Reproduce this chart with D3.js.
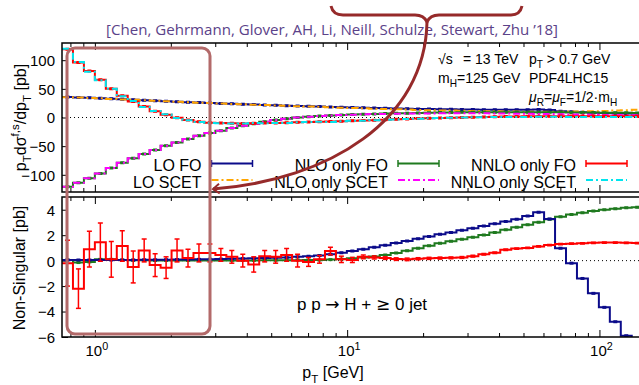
<!DOCTYPE html>
<html>
<head>
<meta charset="utf-8">
<script src="https://cdnjs.cloudflare.com/ajax/libs/d3/7.8.5/d3.min.js"></script>
<style>
body { margin: 0; background: #fff; }
svg { display: block; font-family: "Liberation Sans", Arial, sans-serif; }
</style>
</head>
<body>
<div id="chart-area"></div>
<script>
// bins are equally spaced in ln(pT), width 0.1, first edge at ln(pT) = -0.3
var binWidthLn = 0.1;
var firstEdgeLn = -0.3;
var nBins = 53;
var edges = d3.range(nBins + 1).map(function(k){ return Math.exp(firstEdgeLn + binWidthLn * k); });

// top panel: pT dsigma/dpT [pb]
var loFo = [35.6, 35.1, 34.3, 33.5, 32.6, 31.7, 30.9, 30.1, 29.2, 28.4,
    27.6, 26.8, 26.0, 25.2, 24.5, 23.8, 23.2, 22.5, 21.8, 21.2,
    20.6, 20.1, 19.5, 19.0, 18.4, 17.8, 17.3, 16.9, 16.4, 16.0,
    15.6, 15.3, 15.0, 14.7, 14.4, 14.2, 14.0, 13.8, 13.7, 13.6,
    13.5, 13.5, 13.6, 13.8, 13.3, 11.1, 10.1, 9.2, 8.4, 7.8,
    7.2, 6.8, 6.5];
var loScet = [35.5, 35.0, 34.2, 33.4, 32.5, 31.6, 30.8, 30.0, 29.1, 28.3,
    27.5, 26.7, 25.9, 25.1, 24.4, 23.7, 23.0, 22.3, 21.6, 21.0,
    20.4, 19.8, 19.2, 18.6, 17.9, 17.2, 16.6, 16.0, 15.4, 14.8,
    14.3, 13.8, 13.3, 12.8, 12.4, 12.0, 11.6, 11.3, 11.0, 10.7,
    10.5, 10.3, 10.1, 10.0, 10.0, 10.1, 10.3, 10.6, 11.0, 11.5,
    12.0, 12.7, 13.5];
var nloFo = [-121, -114, -106, -97.5, -88, -79, -71, -63.5, -56.5, -49.5,
    -43.5, -37.5, -32, -27, -23, -18.5, -14.5, -11, -7.5, -4.5,
    -2, 0, 1.5, 2.7, 3.7, 4.5, 5.2, 5.8, 6.3, 6.8,
    7.2, 7.6, 8.0, 8.3, 8.6, 8.8, 9.0, 9.1, 9.2, 9.3,
    9.3, 9.3, 9.3, 9.2, 9.1, 9.0, 8.9, 8.8, 8.6, 8.5,
    8.3, 8.2, 8.0];
var nloScet = [-121, -114, -106, -97.5, -88, -79, -71, -63.5, -56.5, -49.5,
    -43.5, -37.5, -32, -27, -23, -18.5, -14.5, -11, -7.5, -4.5,
    -2, 0, 1.5, 2.6, 3.6, 4.4, 5.0, 5.5, 5.9, 6.3,
    6.6, 6.8, 7.0, 7.1, 7.2, 7.3, 7.3, 7.3, 7.2, 7.1,
    6.9, 6.7, 6.5, 6.2, 5.9, 5.6, 5.3, 5.0, 4.7, 4.5,
    4.2, 4.0, 3.8];
var nnloFo = [119, 96, 81, 66, 50, 38, 28, 19, 11, 5,
    -0.5, -4.5, -7.5, -9, -9.8, -10.2, -10.3, -10.1, -9.8, -9.4,
    -9, -8.5, -8, -7.5, -7, -6.4, -5.8, -5.2, -4.6, -3.9,
    -3.2, -2.5, -1.9, -1.3, -0.8, -0.3, 0.2, 0.6, 1.0, 1.3,
    1.6, 1.8, 2.0, 2.2, 2.3, 2.4, 2.4, 2.4, 2.4, 2.3,
    2.3, 2.2, 2.1];
var nnloScet = [120, 97, 80, 65, 50, 37, 29, 18.5, 11.5, 5.5,
    -0.8, -4.7, -8, -9.5, -10.2, -10.5, -10.3, -9.8, -10.1, -9.7,
    -9.4, -8.5, -7.9, -7.6, -7.7, -6.5, -5.8, -5.5, -4.8, -4.1,
    -3.3, -2.6, -2.05, -1.5, -1.0, -0.5, -0.05, 0.25, 0.5, 0.7,
    0.75, 0.85, 1.0, 1.1, 1.1, 1.1, 1.07, 1.04, 1.0, 0.9,
    0.9, 0.8, 0.7];

// bottom panel: non-singular [pb]
var nsLo = [0.05, 0.05, 0.05, 0.05, 0.05, 0.05, 0.05, 0.06, 0.06, 0.07,
    0.08, 0.09, 0.1, 0.11, 0.12, 0.14, 0.16, 0.18, 0.2, 0.22,
    0.25, 0.3, 0.35, 0.4, 0.5, 0.62, 0.75, 0.9, 1.05, 1.2,
    1.38, 1.55, 1.72, 1.9, 2.07, 2.22, 2.38, 2.55, 2.72, 2.9,
    3.07, 3.25, 3.5, 3.8, 3.27, 0.97, -0.2, -1.4, -2.57, -3.67,
    -4.8, -5.9, -6.5];
var nsNlo = [0.05, -0.15, -0.1, 0.1, 0.1, 0.05, 0.03, 0.03, 0.02, 0.02,
    0.02, 0.02, 0.02, 0.02, 0.02, 0.02, 0.02, 0.02, 0.03, 0.03,
    0.03, 0.04, 0.05, 0.05, 0.08, 0.12, 0.18, 0.25, 0.33, 0.45,
    0.6, 0.78, 0.97, 1.17, 1.36, 1.52, 1.68, 1.84, 2.02, 2.22,
    2.42, 2.62, 2.82, 3.02, 3.25, 3.45, 3.62, 3.77, 3.9, 4.0,
    4.08, 4.15, 4.2];
var nsNnlo = [-0.2, -2.2, 0.9, 1.45, 0.1, 1.15, -0.5, 0.8, -0.35, -0.55,
    0.8, 0.2, 0.6, 0.6, 0.45, 0.3, 0.0, -0.3, 0.35, 0.3,
    0.45, 0.0, -0.1, 0.1, 0.75, 0.1, 0.05, 0.3, 0.25, 0.2,
    0.12, 0.1, 0.15, 0.18, 0.2, 0.22, 0.25, 0.35, 0.5, 0.62,
    0.85, 0.95, 1.0, 1.12, 1.22, 1.3, 1.33, 1.36, 1.4, 1.42,
    1.42, 1.4, 1.38];
var nsNnloErr = [1.8, 1.55, 1.4, 1.5, 1.4, 1.2, 1.25, 0.9, 0.9, 0.85,
    0.9, 0.7, 0.7, 0.7, 0.5, 0.5, 0.5, 0.6, 0.45, 0.5,
    0.5, 0.5, 0.35, 0.3, 0.3, 0.25, 0.2, 0.15, 0.12, 0.1,
    0.1, 0.1, 0.08, 0.08, 0.08, 0.07, 0.07, 0.07, 0.06, 0.06,
    0.06, 0.05, 0.05, 0.05, 0.05, 0.05, 0.05, 0.05, 0.05, 0.05,
    0.05, 0.05, 0.05];

var topTicks = [100, 50, 0, -50, -100];
var bottomTicks = [4, 2, 0, -2, -4, -6];
var majorX = [1, 10, 100];

var legendRows = [
    [{ name: "LO FO", color: "#0b0b8a", fo: true }, { name: "NLO only FO", color: "#1f7a1f", fo: true }, { name: "NNLO only FO", color: "#ff0000", fo: true }],
    [{ name: "LO SCET", color: "#ffa500" }, { name: "NLO only SCET", color: "#ff00ff" }, { name: "NNLO only SCET", color: "#00e5ee" }]
];

var W = 639, H = 385;
var left = 62, right = 642.7;
var top1 = 43, bot1 = 192, top2 = 197, bot2 = 337;

var svg = d3.select("#chart-area")
    .append("svg")
        .attr("width", W)
        .attr("height", H);

var x = d3.scaleLog()
    .domain([edges[0], edges[nBins]])
    .range([left, right]);

var yTop = d3.scaleLinear().domain([-130, 130]).range([bot1, top1]);
var yBot = d3.scaleLinear().domain([-6, 5]).range([bot2, top2]);

var defs = svg.append("defs");
defs.append("clipPath").attr("id", "clipTop")
    .append("rect").attr("x", left).attr("y", top1).attr("width", right - left).attr("height", bot1 - top1);
defs.append("clipPath").attr("id", "clipBot")
    .append("rect").attr("x", left).attr("y", top2).attr("width", right - left).attr("height", bot2 - top2);

function stepPath(values, y){
    var pts = values.map(function(v, i){ return [edges[i], v]; });
    pts.push([edges[nBins], values[nBins - 1]]);
    return d3.line()
        .x(function(d){ return x(d[0]); })
        .y(function(d){ return y(d[1]); })
        .curve(d3.curveStepAfter)(pts);
}

function centre(i){ return Math.sqrt(edges[i] * edges[i + 1]); }

// rich text helper, parts: {t, sub, sup, it, font}
function rich(sel, parts, size){
    var prev = 0;
    parts.forEach(function(p){
        var shift = p.sub ? 0.3 * size : (p.sup ? -0.42 * size : 0);
        var ts = sel.append("tspan")
            .attr("dy", shift - prev)
            .attr("font-size", (p.sub || p.sup) ? size * 0.72 : size)
            .text(p.t);
        if (p.it) ts.attr("font-style", "italic");
        if (p.font) ts.attr("font-family", p.font);
        prev = shift;
    });
}

// ---------- panels ----------
function panel(gTop, gBot, y, ticks, clipId){
    var g = svg.append("g");

    // zero line
    g.append("line")
        .attr("x1", left).attr("x2", right)
        .attr("y1", y(0)).attr("y2", y(0))
        .attr("stroke", "#000").attr("stroke-width", 1)
        .attr("stroke-dasharray", "1,3");

    var minor = [];
    [0.1, 1, 10, 100].forEach(function(dec){
        d3.range(1, 10).forEach(function(m){
            var v = dec * m;
            if (v >= edges[0] && v <= edges[nBins] && majorX.indexOf(v) < 0) minor.push(v);
        });
    });

    // x ticks inward on bottom and top edges
    g.append("g")
        .attr("transform", "translate(0," + gBot + ")")
        .call(d3.axisBottom(x).tickValues(majorX).tickSize(-7).tickFormat(""))
        .call(function(a){ a.select(".domain").remove(); });
    g.append("g")
        .attr("transform", "translate(0," + gBot + ")")
        .call(d3.axisBottom(x).tickValues(minor).tickSize(-4).tickFormat(""))
        .call(function(a){ a.select(".domain").remove(); });
    g.append("g")
        .attr("transform", "translate(0," + gTop + ")")
        .call(d3.axisTop(x).tickValues(majorX).tickSize(-7).tickFormat(""))
        .call(function(a){ a.select(".domain").remove(); });
    g.append("g")
        .attr("transform", "translate(0," + gTop + ")")
        .call(d3.axisTop(x).tickValues(minor).tickSize(-4).tickFormat(""))
        .call(function(a){ a.select(".domain").remove(); });

    // y axis
    var ya = g.append("g")
        .attr("transform", "translate(" + left + ",0)")
        .call(d3.axisLeft(y).tickValues(ticks).tickSize(-6).tickPadding(7));
    ya.select(".domain").remove();
    ya.selectAll("text")
        .attr("font-size", "15px")
        .attr("font-family", "Liberation Sans, Arial, sans-serif")
        .attr("fill", "#000")
        .attr("dy", "0.36em");

    g.selectAll(".tick line").attr("stroke", "#000").attr("stroke-width", 1);

    return svg.append("g").attr("clip-path", "url(#" + clipId + ")");
}

var pTop = panel(top1, bot1, yTop, topTicks, "clipTop");

function drawStep(g, values, y, color, dash, width){
    g.append("path")
        .attr("d", stepPath(values, y))
        .attr("fill", "none")
        .attr("stroke", color)
        .attr("stroke-width", width || 2)
        .attr("stroke-dasharray", dash || null);
}

function drawCaps(g, values, y, color){
    g.selectAll(null)
        .data(values)
        .enter()
        .append("line")
            .attr("x1", function(d, i){ return x(centre(i)) - 2; })
            .attr("x2", function(d, i){ return x(centre(i)) + 2; })
            .attr("y1", function(d){ return y(d); })
            .attr("y2", function(d){ return y(d); })
            .attr("stroke", color)
            .attr("stroke-width", 3);
}

var dashDot = "7,3,2,3";

drawStep(pTop, loFo, yTop, "#0b0b8a");
drawCaps(pTop, loFo, yTop, "#0b0b8a");
drawStep(pTop, loScet, yTop, "#ffa500", dashDot);
drawStep(pTop, nloFo, yTop, "#1f7a1f");
drawCaps(pTop, nloFo, yTop, "#1f7a1f");
drawStep(pTop, nloScet, yTop, "#ff00ff", dashDot);
drawStep(pTop, nnloFo, yTop, "#ff0000");
drawCaps(pTop, nnloFo, yTop, "#ff0000");
drawStep(pTop, nnloScet, yTop, "#00e5ee", dashDot);

var pBot = panel(top2, bot2, yBot, bottomTicks, "clipBot");

drawStep(pBot, nsNlo, yBot, "#1f7a1f");
drawCaps(pBot, nsNlo, yBot, "#1f7a1f");
drawStep(pBot, nsLo, yBot, "#0b0b8a");
drawCaps(pBot, nsLo, yBot, "#0b0b8a");
drawStep(pBot, nsNnlo, yBot, "#ff0000");

var eb = pBot.selectAll(".eb")
    .data(nsNnlo)
    .enter()
    .append("g")
        .attr("class", "eb")
        .attr("stroke", "#ff0000")
        .attr("stroke-width", 1.5);
eb.append("line")
    .attr("x1", function(d, i){ return x(centre(i)); })
    .attr("x2", function(d, i){ return x(centre(i)); })
    .attr("y1", function(d, i){ return yBot(d - nsNnloErr[i]); })
    .attr("y2", function(d, i){ return yBot(d + nsNnloErr[i]); });
eb.append("line")
    .attr("x1", function(d, i){ return x(centre(i)) - 2.5; })
    .attr("x2", function(d, i){ return x(centre(i)) + 2.5; })
    .attr("y1", function(d, i){ return yBot(d - nsNnloErr[i]); })
    .attr("y2", function(d, i){ return yBot(d - nsNnloErr[i]); });
eb.append("line")
    .attr("x1", function(d, i){ return x(centre(i)) - 2.5; })
    .attr("x2", function(d, i){ return x(centre(i)) + 2.5; })
    .attr("y1", function(d, i){ return yBot(d + nsNnloErr[i]); })
    .attr("y2", function(d, i){ return yBot(d + nsNnloErr[i]); });

// frames
[[top1, bot1], [top2, bot2]].forEach(function(p){
    svg.append("rect")
        .attr("x", left).attr("y", p[0])
        .attr("width", right - left).attr("height", p[1] - p[0])
        .attr("fill", "none")
        .attr("stroke", "#000")
        .attr("stroke-width", 1.5);
});

// x tick labels 10^n
majorX.forEach(function(v){
    var t = svg.append("text")
        .attr("x", x(v) + 2)
        .attr("y", 356)
        .attr("text-anchor", "middle");
    rich(t, [{ t: "10" }, { t: String(Math.round(Math.log10(v))), sup: true }], 15);
});

// axis titles
var xt = svg.append("text")
    .attr("x", 333)
    .attr("y", 378)
    .attr("text-anchor", "middle");
rich(xt, [{ t: "p" }, { t: "T", sub: true }, { t: " [GeV]" }], 16);

var yt1 = svg.append("text")
    .attr("transform", "translate(26," + (top1 + bot1) / 2 + ") rotate(-90)")
    .attr("text-anchor", "middle");
rich(yt1, [{ t: "p" }, { t: "T", sub: true }, { t: "d\u03c3" }, { t: "f,s", sup: true }, { t: "/dp" }, { t: "T", sub: true }, { t: " [pb]" }], 16);

svg.append("text")
    .attr("transform", "translate(25," + 268 + ") rotate(-90)")
    .attr("text-anchor", "middle")
    .attr("font-size", "16px")
    .text("Non-Singular [pb]");

// legend
var legX = [201.5, 388, 576];
var legY = [163.5, 180];
legendRows.forEach(function(row, r){
    row.forEach(function(d, c){
        svg.append("text")
            .attr("x", legX[c])
            .attr("y", legY[r] + 7.5)
            .attr("text-anchor", "end")
            .attr("font-size", "16px")
            .text(d.name);
        var x0 = legX[c] + 10, x1 = legX[c] + 51;
        svg.append("line")
            .attr("x1", x0).attr("x2", x1)
            .attr("y1", legY[r]).attr("y2", legY[r])
            .attr("stroke", d.color)
            .attr("stroke-width", 2)
            .attr("stroke-dasharray", d.fo ? null : dashDot);
        if (d.fo) {
            [x0, x1].forEach(function(xx){
                svg.append("line")
                    .attr("x1", xx).attr("x2", xx)
                    .attr("y1", legY[r] - 3.5).attr("y2", legY[r] + 3.5)
                    .attr("stroke", d.color)
                    .attr("stroke-width", 1.5);
            });
        }
    });
});

// process info
var info = [
    { x: 438, y: 63.5, parts: [{ t: "\u221as" }] },
    { x: 463, y: 63.5, parts: [{ t: "= 13 TeV" }] },
    { x: 529, y: 63.5, parts: [{ t: "p" }, { t: "T", sub: true }, { t: " > 0.7 GeV" }] },
    { x: 438, y: 83, parts: [{ t: "m" }, { t: "H", sub: true }, { t: "=125 GeV" }] },
    { x: 529, y: 82.5, parts: [{ t: "PDF4LHC15" }] },
    { x: 529, y: 101.5, parts: [{ t: "\u03bc", it: true }, { t: "R", sub: true }, { t: "=" }, { t: "\u03bc", it: true }, { t: "F", sub: true }, { t: "=1/2\u00b7m" }, { t: "H", sub: true }] }
];
info.forEach(function(d){
    var t = svg.append("text").attr("x", d.x).attr("y", d.y);
    rich(t, d.parts, 14);
});

var proc = svg.append("text")
    .attr("x", 297)
    .attr("y", 310);
rich(proc, [{ t: "p p " }, { t: "\u2192", font: "DejaVu Sans" }, { t: " H + " }, { t: "\u2265", font: "DejaVu Sans" }, { t: " 0 jet" }], 17);

// annotations
svg.append("text")
    .attr("x", 332)
    .attr("y", 35)
    .attr("text-anchor", "middle")
    .attr("font-family", "'Open Sans', sans-serif")
    .attr("font-size", "14.5px")
    .attr("fill", "#5b4289")
    .attr("textLength", 452)
    .attr("lengthAdjust", "spacingAndGlyphs")
    .text("[Chen, Gehrmann, Glover, AH, Li, Neill, Schulze, Stewart, Zhu \u201918]");

var annColor = "#962a2a";

svg.append("rect")
    .attr("x", 67).attr("y", 48)
    .attr("width", 143).attr("height", 286)
    .attr("rx", 8).attr("ry", 8)
    .attr("fill", "none")
    .attr("stroke", "#b36a6a")
    .attr("stroke-width", 3);

svg.append("path")
    .attr("d", "M331,6 Q333,15 343,15 L415,15 Q424,15 427,22 Q430,15 439,15 L511,15 Q520,15 522,6")
    .attr("fill", "none")
    .attr("stroke", annColor)
    .attr("stroke-width", 3);

defs.append("marker")
    .attr("id", "arrow")
    .attr("markerUnits", "userSpaceOnUse")
    .attr("markerWidth", 16).attr("markerHeight", 16)
    .attr("viewBox", "-10 -8 20 16")
    .attr("refX", 0).attr("refY", 0)
    .attr("orient", "auto")
    .append("path")
        .attr("d", "M-8,-6 L0,0 L-8,6")
        .attr("fill", "none")
        .attr("stroke", annColor)
        .attr("stroke-width", 2.5);

svg.append("path")
    .attr("d", "M427,22 C425,120 330,180 213,189")
    .attr("fill", "none")
    .attr("stroke", annColor)
    .attr("stroke-width", 3)
    .attr("marker-end", "url(#arrow)");
</script>
</body>
</html>
